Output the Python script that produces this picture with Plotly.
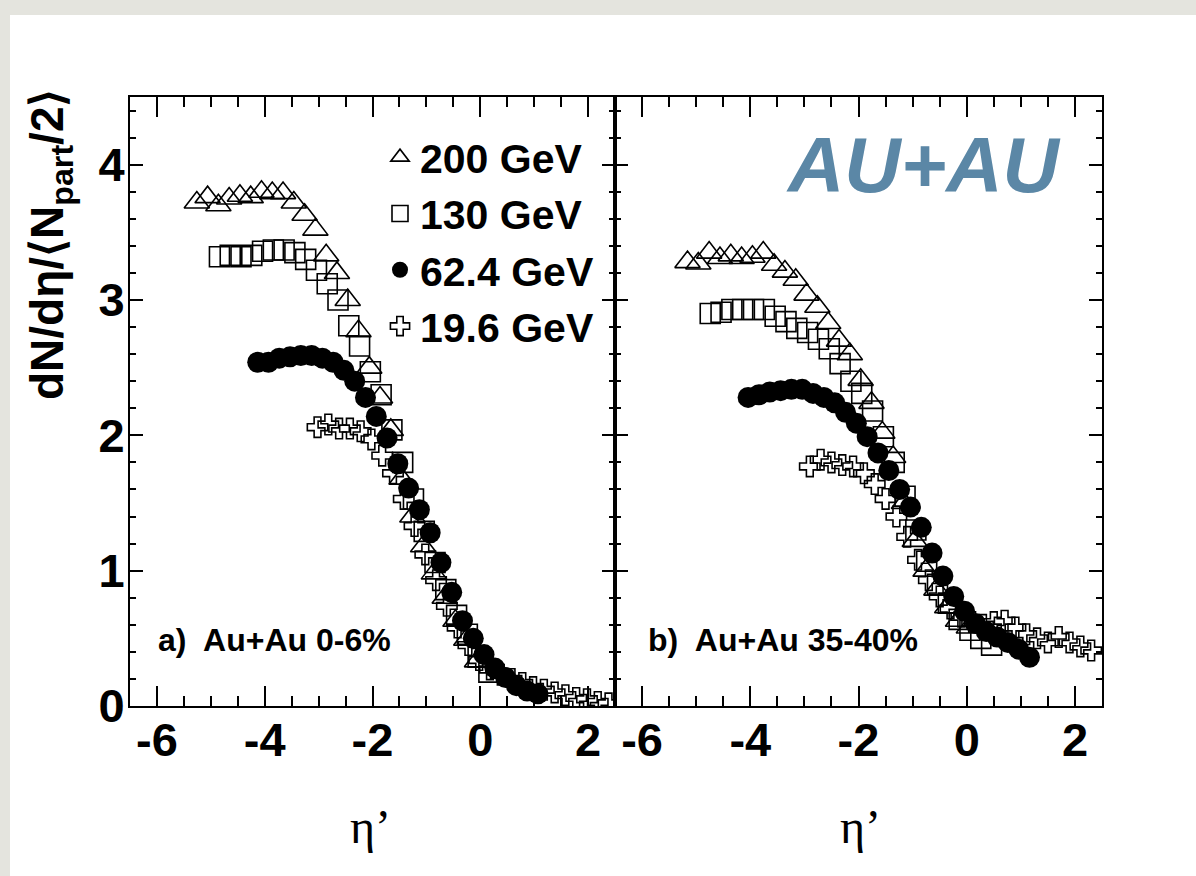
import plotly.graph_objects as go

# ---------------- data: panel a) Au+Au 0-6% ----------------
a200_x = [-5.26,-5.06,-4.86,-4.66,-4.46,-4.26,-4.06,-3.86,-3.66,-3.46,-3.26,-3.06,-2.86,-2.66,-2.46,-2.26,-2.06,-1.86,-1.66,-1.46,-1.26,-1.06,-0.86,-0.66,-0.46,-0.26,-0.06]
a200_y = [3.72,3.76,3.70,3.75,3.77,3.76,3.80,3.79,3.79,3.72,3.63,3.52,3.33,3.20,3.00,2.77,2.50,2.28,2.04,1.68,1.40,1.18,0.98,0.80,0.63,0.49,0.33]

a130_x = [-4.84,-4.64,-4.44,-4.24,-4.04,-3.84,-3.64,-3.44,-3.24,-3.04,-2.84,-2.64,-2.44,-2.24,-2.04,-1.84,-1.64,-1.44,-1.24,-1.04,-0.84,-0.64,-0.44,-0.24,-0.04,0.16]
a130_y = [3.32,3.33,3.32,3.33,3.36,3.37,3.37,3.35,3.30,3.22,3.12,3.00,2.81,2.66,2.47,2.30,2.04,1.80,1.53,1.29,1.06,0.86,0.67,0.53,0.36,0.25]

a62_x = [-4.13,-3.93,-3.73,-3.53,-3.33,-3.13,-2.93,-2.73,-2.53,-2.33,-2.13,-1.93,-1.73,-1.53,-1.33,-1.13,-0.93,-0.73,-0.53,-0.33,-0.13,0.07,0.27,0.47,0.67,0.87,1.07]
a62_y = [2.54,2.54,2.57,2.58,2.59,2.59,2.57,2.54,2.48,2.40,2.28,2.14,1.98,1.79,1.61,1.45,1.28,1.06,0.84,0.63,0.50,0.38,0.28,0.21,0.15,0.11,0.09]

a19_x = [-3.02,-2.82,-2.62,-2.42,-2.22,-2.02,-1.82,-1.62,-1.42,-1.22,-1.02,-0.82,-0.62,-0.42,-0.22,-0.02,0.18,0.38,0.58,0.78,0.98,1.18,1.38,1.58,1.78,1.98,2.18,2.38]
a19_y = [2.06,2.08,2.05,2.05,2.03,1.97,1.85,1.72,1.53,1.33,1.12,0.93,0.74,0.58,0.45,0.34,0.27,0.23,0.20,0.17,0.14,0.12,0.10,0.08,0.06,0.05,0.03,0.02]

# ---------------- data: panel b) Au+Au 35-40% ----------------
b200_x = [-5.16,-4.96,-4.76,-4.56,-4.36,-4.16,-3.96,-3.76,-3.56,-3.36,-3.16,-2.96,-2.76,-2.56,-2.36,-2.16,-1.96,-1.76,-1.56,-1.36,-1.16,-0.96,-0.76,-0.56,-0.36,-0.16,0.04]
b200_y = [3.28,3.27,3.35,3.31,3.33,3.31,3.32,3.35,3.26,3.21,3.15,3.04,2.95,2.83,2.70,2.60,2.41,2.24,2.02,1.84,1.50,1.22,1.00,0.86,0.73,0.63,0.58]

b130_x = [-4.74,-4.54,-4.34,-4.14,-3.94,-3.74,-3.54,-3.34,-3.14,-2.94,-2.74,-2.54,-2.34,-2.14,-1.94,-1.74,-1.54,-1.34,-1.14,-0.94,-0.74,-0.54,-0.34,-0.14,0.06,0.26,0.46]
b130_y = [2.90,2.91,2.93,2.93,2.93,2.93,2.88,2.84,2.79,2.76,2.71,2.64,2.53,2.40,2.31,2.18,1.99,1.80,1.55,1.30,1.07,0.90,0.76,0.64,0.56,0.50,0.45]

b62_x = [-4.04,-3.84,-3.64,-3.44,-3.24,-3.04,-2.84,-2.64,-2.44,-2.24,-2.04,-1.84,-1.64,-1.44,-1.24,-1.04,-0.84,-0.64,-0.44,-0.24,-0.04,0.16,0.36,0.56,0.76,0.96,1.16]
b62_y = [2.28,2.30,2.32,2.33,2.34,2.34,2.31,2.28,2.24,2.17,2.09,1.99,1.87,1.74,1.60,1.47,1.32,1.13,0.96,0.81,0.70,0.61,0.55,0.51,0.47,0.42,0.36]

b19_x = [-2.90,-2.70,-2.50,-2.30,-2.10,-1.90,-1.70,-1.50,-1.30,-1.10,-0.90,-0.70,-0.50,-0.30,-0.10,0.10,0.30,0.50,0.70,0.90,1.10,1.30,1.50,1.70,1.90,2.10,2.30]
b19_y = [1.77,1.82,1.80,1.78,1.77,1.72,1.64,1.53,1.40,1.25,1.08,0.93,0.81,0.72,0.66,0.62,0.60,0.62,0.63,0.58,0.53,0.50,0.47,0.51,0.47,0.44,0.41]

series_names = ["200 GeV", "130 GeV", "62.4 GeV", "19.6 GeV"]
x_tickvals = [-6, -4, -2, 0, 2]
x_ticktext = ["-6", "-4", "-2", "0", "2"]
y_tickvals = [0, 1, 2, 3, 4]
y_ticktext = ["0", "1", "2", "3", "4"]
panel_labels = ["a)  Au+Au 0-6%", "b)  Au+Au 35-40%"]

# ---------------- styles ----------------
styles = {
    "200 GeV": dict(symbol="triangle-up-open", size=22, color="black", line=dict(width=1.6, color="black")),
    "130 GeV": dict(symbol="square-open", size=20, color="black", line=dict(width=1.6, color="black")),
    "62.4 GeV": dict(symbol="circle", size=21, color="black", line=dict(width=0, color="black")),
    "19.6 GeV": dict(symbol="cross-open", size=17, color="black", line=dict(width=1.6, color="black")),
}
rank = {"200 GeV": 1, "130 GeV": 2, "62.4 GeV": 3, "19.6 GeV": 4}

panel_a = {"200 GeV": (a200_x, a200_y), "130 GeV": (a130_x, a130_y),
           "62.4 GeV": (a62_x, a62_y), "19.6 GeV": (a19_x, a19_y)}
panel_b = {"200 GeV": (b200_x, b200_y), "130 GeV": (b130_x, b130_y),
           "62.4 GeV": (b62_x, b62_y), "19.6 GeV": (b19_x, b19_y)}

draw_order = ["19.6 GeV", "200 GeV", "130 GeV", "62.4 GeV"]

fig = go.Figure()
for name in draw_order:
    xs, ys = panel_a[name]
    fig.add_trace(go.Scatter(x=xs, y=ys, mode="markers", name=name, marker=styles[name],
                             xaxis="x", yaxis="y", showlegend=True, legendrank=rank[name]))
for name in draw_order:
    xs, ys = panel_b[name]
    fig.add_trace(go.Scatter(x=xs, y=ys, mode="markers", name=name, marker=styles[name],
                             xaxis="x2", yaxis="y2", showlegend=False))

L, R, T, B = 130, 94, 97, 170
W, H = 1196, 876
PW = W - L - R
PH = H - T - B

def px(xp):
    return (xp - L) / PW

def py(yp):
    return (H - B - yp) / PH

tickfont = dict(family="Liberation Sans, Arial, sans-serif", size=47, color="black", weight="bold")

common_x = dict(range=[-6.5, 2.5], tickvals=x_tickvals, ticktext=x_ticktext, ticks="inside",
                ticklen=20, tickwidth=1.5, tickcolor="black", showline=True, linecolor="black",
                linewidth=2, mirror="allticks", showgrid=False, zeroline=False, tickfont=tickfont,
                ticklabelstandoff=-8,
                minor=dict(dtick=0.5, ticks="inside", ticklen=10, tickwidth=1.5, tickcolor="black", showgrid=False))
common_y = dict(range=[0, 4.5], tickvals=y_tickvals, ticks="inside", ticklen=13, tickwidth=1.5,
                tickcolor="black", showline=True, linecolor="black", linewidth=2, mirror="allticks",
                showgrid=False, zeroline=False, tickfont=tickfont,
                minor=dict(dtick=0.2, ticks="inside", ticklen=6, tickwidth=1.5, tickcolor="black", showgrid=False))

split = 485 / PW

fig.update_layout(
    width=W, height=H,
    margin=dict(l=L, r=R, t=T, b=B, pad=0),
    paper_bgcolor="#e4e4de",
    plot_bgcolor="white",
    xaxis=dict(domain=[0, split], anchor="y", **common_x),
    xaxis2=dict(domain=[split, 1], anchor="y2", **common_x),
    yaxis=dict(domain=[0, 1], anchor="x", ticktext=y_ticktext, ticklabelstandoff=-6, **common_y),
    yaxis2=dict(domain=[0, 1], anchor="x2", showticklabels=False, **common_y),
    showlegend=True,
    legend=dict(x=px(380), y=py(124), xanchor="left", yanchor="top", bgcolor="rgba(0,0,0,0)",
                font=dict(family="Liberation Sans, Arial, sans-serif", size=41, color="black", weight="bold"),
                itemsizing="trace", tracegroupgap=0, borderwidth=0),
    shapes=[dict(type="rect", xref="paper", yref="paper", x0=px(10), x1=px(W + 5), y0=py(H + 5), y1=py(15),
                 fillcolor="white", line=dict(width=0), layer="below")],
)

ann = []
ann.append(dict(text="dN/d\u03b7/\u27e8N<sub>part</sub>/2\u27e9", xref="paper", yref="paper",
                x=px(50), y=py(245), textangle=-90, showarrow=False, xanchor="center", yanchor="middle",
                font=dict(family="Liberation Sans, Arial, sans-serif", size=46, color="black", weight="bold")))
for xc in [370, 860]:
    ann.append(dict(text="\u03b7\u2019", xref="paper", yref="paper", x=px(xc), y=py(826), showarrow=False,
                    xanchor="center", yanchor="middle",
                    font=dict(family="Liberation Serif, Times New Roman, serif", size=48, color="black")))
ann.append(dict(text=panel_labels[0], xref="paper", yref="paper", x=px(156), y=py(640), showarrow=False,
                xanchor="left", yanchor="middle",
                font=dict(family="Liberation Sans, Arial, sans-serif", size=32, color="black", weight="bold")))
ann.append(dict(text=panel_labels[1], xref="paper", yref="paper", x=px(646), y=py(640), showarrow=False,
                xanchor="left", yanchor="middle",
                font=dict(family="Liberation Sans, Arial, sans-serif", size=32, color="black", weight="bold")))
ann.append(dict(text="AU+AU", xref="paper", yref="paper", x=px(923), y=py(165), showarrow=False,
                xanchor="center", yanchor="middle",
                font=dict(family="Liberation Sans, Arial, sans-serif", size=78, color="#5b87a6",
                          weight="bold", style="italic")))
fig.update_layout(annotations=ann)

fig.write_html("out.html")
